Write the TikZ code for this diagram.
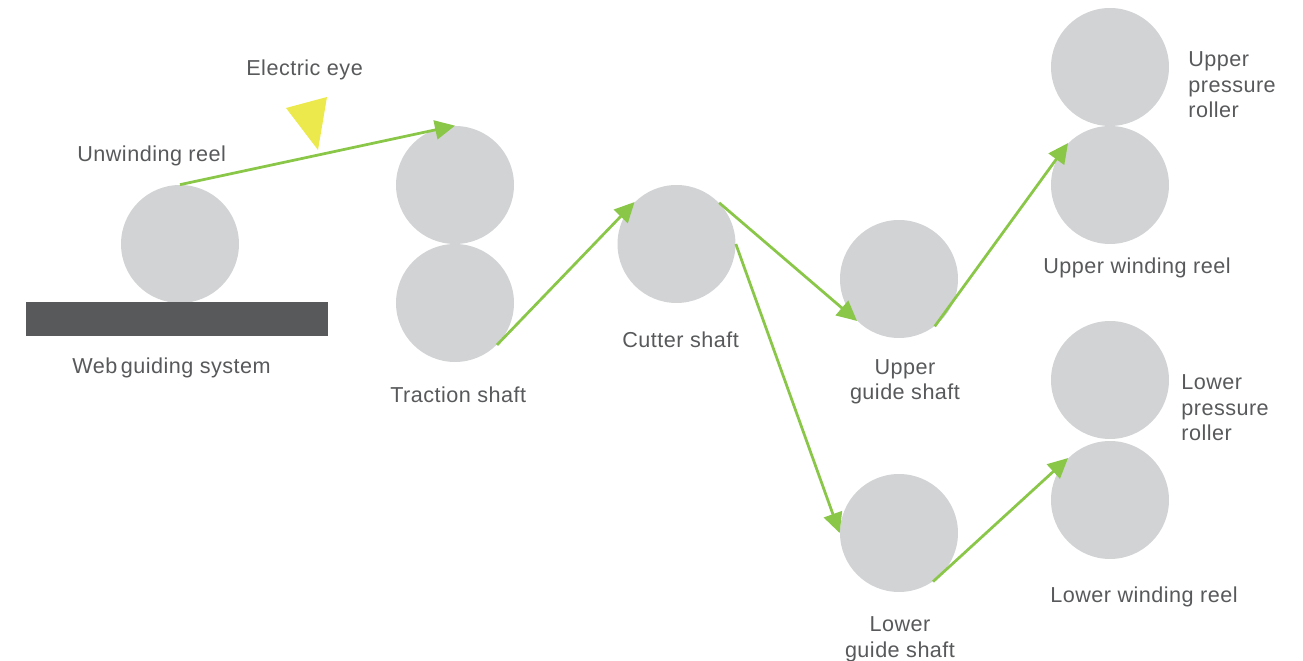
\documentclass[tikz,border=0pt]{standalone}
\usepackage{fontspec}
\setmainfont[LetterSpace=2.2]{Liberation Sans}
\usepackage{xcolor}
\usetikzlibrary{arrows.meta}
\definecolor{SHAFT}{RGB}{209, 211, 212}
\definecolor{WEB}{RGB}{138, 199, 72}
\definecolor{BAR}{RGB}{88, 89, 91}
\definecolor{EYE}{RGB}{236, 233, 76}
\tikzset{
	shaft/.style={circle, fill=SHAFT, inner sep=0pt, minimum size=2.36cm},
	web/.style={-{Triangle[length=0.4cm, width=0.38cm]}, color=WEB, line width=0.055cm},
	label/.style={text=BAR, inner sep=0pt, align=left, font=\fontsize{12.3}{14.5}\selectfont},
}
\begin{document}
\begin{tikzpicture}[x=0.02cm, y=-0.02cm]
	\useasboundingbox (0, 0) rectangle (1303, 661);
	\node[shaft] (unwinding) at (180, 244) {};
	\node[shaft] (tractionup) at (455, 185) {};
	\node[shaft] (tractionlow) at (455, 303) {};
	\node[shaft] (cutter) at (676.5, 244) {};
	\node[shaft] (guideup) at (899, 279) {};
	\node[shaft] (guidelow) at (899, 533) {};
	\node[shaft] (pressup) at (1110, 67) {};
	\node[shaft] (windup) at (1110, 185) {};
	\node[shaft] (presslow) at (1110, 380) {};
	\node[shaft] (windlow) at (1110, 500) {};
	\node[fill=BAR, inner sep=0pt, minimum width=6.04cm, minimum height=0.68cm] (guiding) at (177, 319) {};
	\fill[EYE] (286, 108) -- (327, 97) -- (318, 150) -- cycle;
	\draw[web] (unwinding.north) to (tractionup.north);
	\draw[web] (tractionlow.-45) to (cutter.135);
	\draw[web] (cutter.44) to (guideup.225);
	\draw[web] (cutter.east) to (guidelow.west);
	\draw[web] (guideup.-53) to (windup.135);
	\draw[web] (guidelow.-55) to (windlow.135);
	\node[label, anchor=west] (eyetext) at (246, 70) {Electric eye};
	\node[label, anchor=west] (unwindingtext) at (77, 156) {Unwinding reel};
	\node[label, anchor=west] (guidingtext) at (72, 368) {Web\hspace{-0.14em} guiding system};
	\node[label, anchor=west] (tractiontext) at (390, 395) {Traction shaft};
	\node[label, anchor=west] (cuttertext) at (622, 340) {Cutter shaft};
	\node[label, align=center] (guideuptext) at (905, 382) {Upper\\guide shaft};
	\node[label, align=center] (guidelowtext) at (900, 639.5) {Lower\\guide shaft};
	\node[label] (pressuptext) [anchor=west] at (1188, 85) {Upper\\pressure\\roller};
	\node[label, anchor=west] (winduptext) at (1043, 268) {Upper winding reel};
	\node[label] (presslowtext) [anchor=west] at (1181, 408) {Lower\\pressure\\roller};
	\node[label, anchor=west] (windlowtext) at (1050, 597) {Lower winding reel};
\end{tikzpicture}
\end{document}
